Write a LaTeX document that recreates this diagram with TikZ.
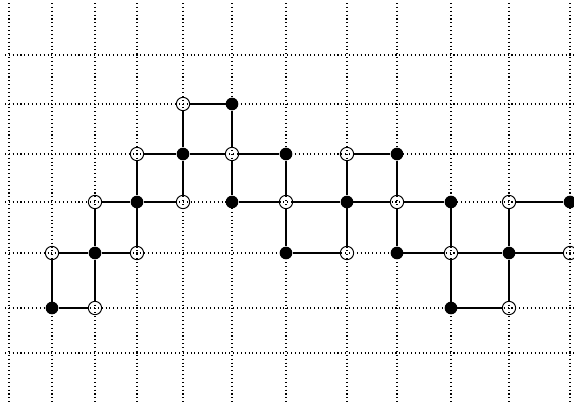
\documentclass[tikz,border=0pt]{standalone}
\usepackage{tikz}

\tikzset{
  grid line/.style={line width=0.9pt, dash pattern=on 0.9pt off 2.4pt},
  bond/.style={line width=0.9pt},
  white site/.style={circle, draw, line width=0.8pt, minimum size=0.40cm, inner sep=0pt},
  black site/.style={circle, fill, minimum size=0.38cm, inner sep=0pt},
}

\begin{document}
\begin{tikzpicture}[x=0.03cm, y=-0.03cm]
   \useasboundingbox (0,0) rectangle (574,410);

   % dotted lattice
   \foreach \x [count=\i from 0] in {9,52,95,137,183,232,286,347,397,451,509,570}
     \foreach \y [count=\j from 0] in {55,104,154,202,253,308,353}
       \coordinate (p\i-\j) at (\x,\y);
   \foreach \x in {9,52,95,137,183,232,286,347,397,451,509,570}
     \draw[grid line] (\x,3) -- (\x,405);
   \foreach \y in {55,104,154,202,253,308,353}
     \draw[grid line] (5,\y) -- (574,\y);

   % row 1
   \node[white site] (w41) at (p4-1) {};
   \node[black site] (b51) at (p5-1) {};

   % row 2
   \node[white site] (w32) at (p3-2) {};
   \node[black site] (b42) at (p4-2) {};
   \node[white site] (w52) at (p5-2) {};
   \node[black site] (b62) at (p6-2) {};
   \node[white site] (w72) at (p7-2) {};
   \node[black site] (b82) at (p8-2) {};

   % row 3
   \node[white site] (w23) at (p2-3) {};
   \node[black site] (b33) at (p3-3) {};
   \node[white site] (w43) at (p4-3) {};
   \node[black site] (b53) at (p5-3) {};
   \node[white site] (w63) at (p6-3) {};
   \node[black site] (b73) at (p7-3) {};
   \node[white site] (w83) at (p8-3) {};
   \node[black site] (b93) at (p9-3) {};
   \node[white site] (w103) at (p10-3) {};
   \node[black site] (b113) at (p11-3) {};

   % row 4
   \node[white site] (w14) at (p1-4) {};
   \node[black site] (b24) at (p2-4) {};
   \node[white site] (w34) at (p3-4) {};
   \node[black site] (b64) at (p6-4) {};
   \node[white site] (w74) at (p7-4) {};
   \node[black site] (b84) at (p8-4) {};
   \node[white site] (w94) at (p9-4) {};
   \node[black site] (b104) at (p10-4) {};
   \node[white site] (w114) at (p11-4) {};

   % row 5
   \node[black site] (b15) at (p1-5) {};
   \node[white site] (w25) at (p2-5) {};
   \node[black site] (b95) at (p9-5) {};
   \node[white site] (w105) at (p10-5) {};

   % horizontal bonds
   \draw[bond] (w41) -- (b51);
   \draw[bond] (w32) -- (b42) -- (w52) -- (b62);
   \draw[bond] (w72) -- (b82);
   \draw[bond] (w23) -- (b33) -- (w43);
   \draw[bond] (b53) -- (w63) -- (b73) -- (w83) -- (b93);
   \draw[bond] (w103) -- (b113);
   \draw[bond] (w14) -- (b24) -- (w34);
   \draw[bond] (b64) -- (w74);
   \draw[bond] (b84) -- (w94) -- (b104) -- (w114);
   \draw[bond] (b15) -- (w25);
   \draw[bond] (b95) -- (w105);

   % vertical bonds
   \draw[bond] (w41) -- (b42) -- (w43);
   \draw[bond] (b51) -- (w52) -- (b53);
   \draw[bond] (w32) -- (b33) -- (w34);
   \draw[bond] (b62) -- (w63) -- (b64);
   \draw[bond] (w72) -- (b73) -- (w74);
   \draw[bond] (b82) -- (w83) -- (b84);
   \draw[bond] (w23) -- (b24) -- (w25);
   \draw[bond] (b93) -- (w94) -- (b95);
   \draw[bond] (w103) -- (b104) -- (w105);
   \draw[bond] (w14) -- (b15);
\end{tikzpicture}
\end{document}
